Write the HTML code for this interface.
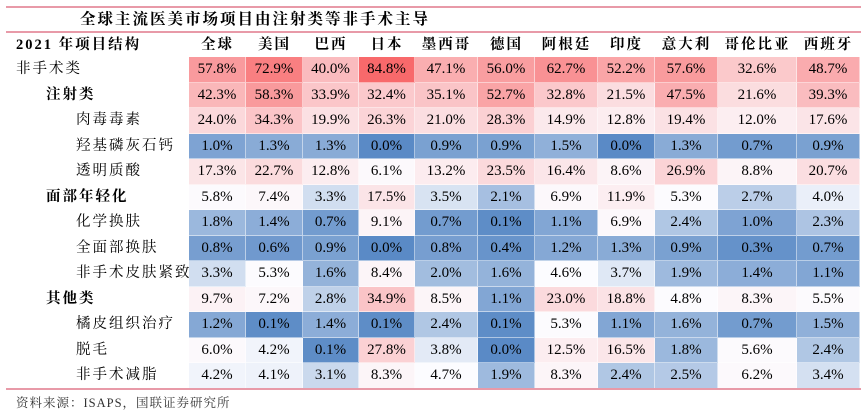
<!DOCTYPE html>
<html><head><meta charset="utf-8">
<style>
body{margin:0;width:866px;height:418px;background:#fff;position:relative;overflow:hidden;font-family:"Liberation Serif","Noto Serif CJK SC",serif;color:#000}
.line{position:absolute;left:6px;width:855px;height:2px;background:#e89aa8}
#title{position:absolute;left:80px;top:8px;font-size:15.5px;font-weight:bold;letter-spacing:2px;line-height:23px}
.c{position:absolute;font-size:15px;text-align:center;white-space:nowrap;box-sizing:border-box;border-right:1px solid rgba(255,255,255,.5);border-bottom:1px solid rgba(255,255,255,.5)}
.h{font-weight:bold;font-size:14.5px;letter-spacing:1px}
.l{position:absolute;font-size:14.5px;letter-spacing:2px;white-space:nowrap}
#src{position:absolute;left:16px;top:393px;font-size:12.5px;color:#333;letter-spacing:1px}
</style></head><body>
<div class="line" style="top:6px"></div>
<div id="title">全球主流医美市场项目由注射类等非手术主导</div>
<div class="line" style="top:31px"></div>
<div id="t"></div>
<div class="line" style="top:388px"></div>
<div id="src">资料来源：ISAPS，国联证券研究所</div>
<script>
var xs=[189,246,303,359,415,478,535,598,655,718,797,860];
var hd=["全球","美国","巴西","日本","墨西哥","德国","阿根廷","印度","意大利","哥伦比亚","西班牙"];
var rows=[["非手术类",0,[57.8,72.9,40.0,84.8,47.1,56.0,62.7,52.2,57.6,32.6,48.7]],
["注射类",1,[42.3,58.3,33.9,32.4,35.1,52.7,32.8,21.5,47.5,21.6,39.3]],
["肉毒毒素",2,[24.0,34.3,19.9,26.3,21.0,28.3,14.9,12.8,19.4,12.0,17.6]],
["羟基磷灰石钙",2,[1.0,1.3,1.3,0.0,0.9,0.9,1.5,0.0,1.3,0.7,0.9]],
["透明质酸",2,[17.3,22.7,12.8,6.1,13.2,23.5,16.4,8.6,26.9,8.8,20.7]],
["面部年轻化",1,[5.8,7.4,3.3,17.5,3.5,2.1,6.9,11.9,5.3,2.7,4.0]],
["化学换肤",2,[1.8,1.4,0.7,9.1,0.7,0.1,1.1,6.9,2.4,1.0,2.3]],
["全面部换肤",2,[0.8,0.6,0.9,0.0,0.8,0.4,1.2,1.3,0.9,0.3,0.7]],
["非手术皮肤紧致",2,[3.3,5.3,1.6,8.4,2.0,1.6,4.6,3.7,1.9,1.4,1.1]],
["其他类",1,[9.7,7.2,2.8,34.9,8.5,1.1,23.0,18.8,4.8,8.3,5.5]],
["橘皮组织治疗",2,[1.2,0.1,1.4,0.1,2.4,0.1,5.3,1.1,1.6,0.7,1.5]],
["脱毛",2,[6.0,4.2,0.1,27.8,3.8,0.0,12.5,16.5,1.8,5.6,2.4]],
["非手术减脂",2,[4.2,4.1,3.1,8.3,4.7,1.9,8.3,2.4,2.5,6.2,3.4]]];
function mix(a,b,t){return a.map((v,i)=>Math.round(v+(b[i]-v)*t));}
var W=[252,252,255],R=[248,105,107],B=[90,138,198],M=4.5;
function col(v){var c=v<M?mix(B,W,v/M):mix(W,R,Math.min(1,(v-M)/(84.8-M)));return "rgb("+c.join(",")+")";}
var h='<div class="l h" style="left:16px;top:33px;line-height:24px">2021 年项目结构</div>';
hd.forEach((t,i)=>{h+='<div class="c h" style="left:'+xs[i]+'px;width:'+(xs[i+1]-xs[i])+'px;top:33px;height:24px;line-height:24px;border:none;letter-spacing:2px">'+t+'</div>';});
rows.forEach((r,j)=>{var y=57+j*25.5;
h+='<div class="l" style="left:'+(16+r[1]*30)+'px;top:'+y+'px;line-height:25.5px;'+(r[1]==1?'font-weight:bold':'')+'">'+r[0]+'</div>';
r[2].forEach((v,i)=>{h+='<div class="c" style="left:'+xs[i]+'px;width:'+(xs[i+1]-xs[i])+'px;top:'+y+'px;height:25.5px;line-height:25px;background:'+col(v)+'">'+v.toFixed(1)+'%</div>';});});
document.getElementById('t').innerHTML=h;
</script>
</body></html>
